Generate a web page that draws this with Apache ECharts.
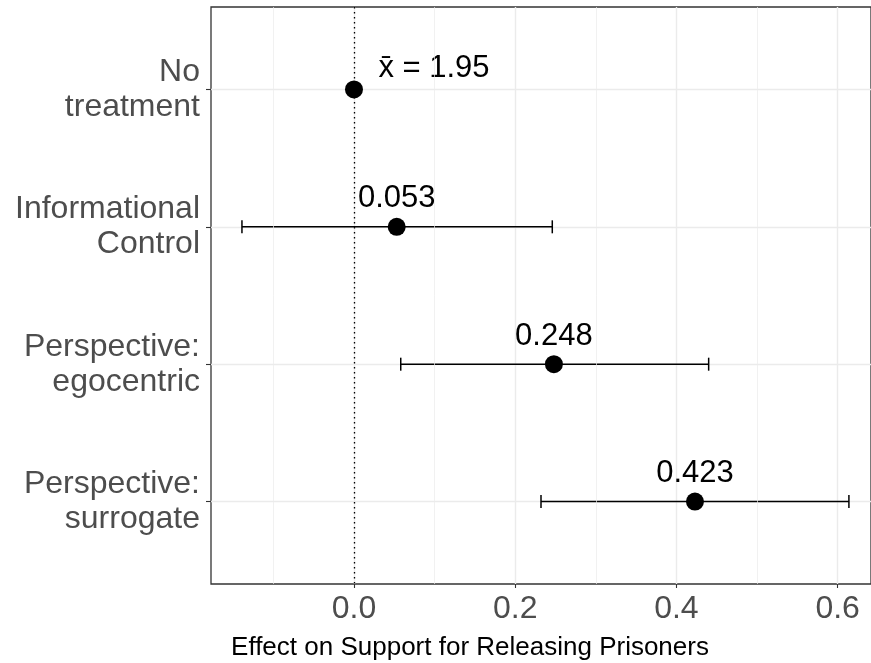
<!DOCTYPE html>
<html>
<head>
<meta charset="utf-8">
<script src="https://cdn.jsdelivr.net/npm/echarts@6/dist/echarts.min.js"></script>
<style>
html,body{margin:0;padding:0;background:#fff;}
#chart{width:871px;height:663px;}
</style>
</head>
<body>
<div id="chart"></div>
<script>
// ---- data ----
var categories = ['No\ntreatment', 'Informational\nControl', 'Perspective:\negocentric', 'Perspective:\nsurrogate'];
var estimates = [0, 0.053, 0.248, 0.423];
var lower = [null, -0.139, 0.058, 0.232];
var upper = [null, 0.246, 0.440, 0.614];
var pointLabels = ['x\u0304 = 1.95', '0.053', '0.248', '0.423'];
var xTicks = [0, 0.2, 0.4, 0.6];
var xMinorGrid = [-0.1, 0.1, 0.3, 0.5];
var yPositions = [1, 2, 3, 4];

var FONT = '"Liberation Sans", Arial, Helvetica, sans-serif';

var chart = echarts.init(document.getElementById('chart'), null, {renderer: 'canvas'});

var errData = [];
for (var i = 0; i < categories.length; i++) {
  if (lower[i] !== null) errData.push([lower[i], upper[i], yPositions[i]]);
}
var pointData = estimates.map(function (v, i) {
  var item = {value: [v, yPositions[i]], label: {show: true, formatter: pointLabels[i], position: 'inside', offset: [0, -28]}};
  if (i === 0) item.label.offset = [80, -21];
  return item;
});

var option = {
  animation: false,
  backgroundColor: '#ffffff',
  textStyle: {fontFamily: FONT},
  grid: {
    left: 211, right: 0, top: 7, bottom: 79,
    outerBoundsMode: 'none', containLabel: false,
    show: true, borderColor: '#333333', borderWidth: 1.3, backgroundColor: '#ffffff'
  },
  xAxis: {
    type: 'value',
    min: -0.1774, max: 0.6414,
    axisLine: {show: false, onZero: false},
    axisTick: {show: true, customValues: xTicks, length: 4, lineStyle: {color: '#333333', width: 1.1}},
    axisLabel: {customValues: xTicks, formatter: function (v) { return v.toFixed(1); },
      color: '#4d4d4d', fontSize: 32, fontFamily: FONT, margin: 9},
    splitLine: {show: true, lineStyle: {color: '#ebebeb', width: 1.4}},
    name: 'Effect on Support for Releasing Prisoners',
    nameLocation: 'middle', nameGap: 51,
    nameTextStyle: {color: '#000000', fontSize: 26, fontFamily: FONT, padding: [0, 142, 0, 0]}
  },
  yAxis: {
    type: 'value',
    min: 0.4, max: 4.6, inverse: true,
    axisLine: {show: false, onZero: false},
    axisTick: {show: true, customValues: yPositions, length: 5, lineStyle: {color: '#333333', width: 1.1}},
    axisLabel: {customValues: yPositions, formatter: function (v) { return categories[Math.round(v) - 1]; },
      color: '#4d4d4d', fontSize: 32, lineHeight: 35, fontFamily: FONT, margin: 11, align: 'right'},
    splitLine: {show: true, lineStyle: {color: '#ebebeb', width: 1.4}}
  },
  series: [
    {
      type: 'line', data: [], silent: true, z: 1,
      markLine: {
        silent: true, symbol: 'none', label: {show: false},
        lineStyle: {color: '#ebebeb', width: 0.7, type: 'solid'},
        data: xMinorGrid.map(function (v) { return {xAxis: v}; })
      }
    },
    {
      type: 'custom', z: 2, silent: true,
      data: errData,
      renderItem: function (params, api) {
        var p1 = api.coord([api.value(0), api.value(2)]);
        var p2 = api.coord([api.value(1), api.value(2)]);
        var h = 6.5;
        var st = {stroke: '#000000', lineWidth: 1.5};
        return {type: 'group', children: [
          {type: 'line', shape: {x1: p1[0], y1: p1[1], x2: p2[0], y2: p2[1]}, style: st},
          {type: 'line', shape: {x1: p1[0], y1: p1[1] - h, x2: p1[0], y2: p1[1] + h}, style: st},
          {type: 'line', shape: {x1: p2[0], y1: p2[1] - h, x2: p2[0], y2: p2[1] + h}, style: st}
        ]};
      },
      markLine: {
        silent: true, symbol: 'none', label: {show: false},
        lineStyle: {color: '#000000', width: 1.3, type: [1.5, 3.5]},
        data: [{xAxis: 0}]
      }
    },
    {
      type: 'scatter', z: 3,
      symbol: 'circle', symbolSize: 18,
      itemStyle: {color: '#000000', opacity: 1},
      label: {color: '#000000', fontSize: 31, fontFamily: FONT},
      data: pointData
    }
  ]
};
chart.setOption(option);
</script>
</body>
</html>
